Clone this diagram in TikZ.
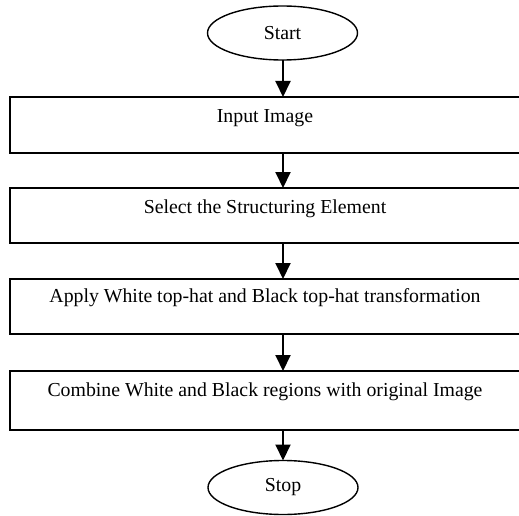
\documentclass[tikz,border=0pt]{standalone}
\usepackage{fontspec}
\setmainfont{Liberation Serif}
\usetikzlibrary{shapes.geometric,arrows.meta}
\begin{document}
\begin{tikzpicture}[x=1pt,y=-1pt,
  every node/.style={inner sep=0pt,outer sep=0pt},
  txt/.style={font=\fontsize{19.8}{24}\selectfont},
  term/.style={ellipse,draw,line width=1.4pt,minimum width=150pt,minimum height=54pt,font=\fontsize{19.8}{24}\selectfont},
  stepbox/.style={rectangle,draw,line width=1.8pt,minimum width=510pt},
  flow/.style={line width=2pt,-{Triangle[width=15pt,length=16pt]}}]
\clip (0,0) rectangle (519,516);
\node[term] (start) at (282.5,33) {Start};
\node[stepbox,minimum height=56pt] (b1) at (265,125) {};
\node[stepbox,minimum height=55pt] (b2) at (265,215.5) {};
\node[stepbox,minimum height=55pt] (b3) at (265,306.5) {};
\node[stepbox,minimum height=59pt] (b4) at (265,400.5) {};
\node[term] (stop) at (283,487.5) {Stop};
\node[txt] (t1) at (265,118) {Input Image};
\node[txt] (t2) at (265,209) {Select the Structuring Element};
\node[txt] (t3) at (265,298) {Apply White top-hat and Black top-hat transformation};
\node[txt] (t4) at (265,392) {Combine White and Black regions with original Image};
\draw[flow] (start.south -| 283,0) -- (b1.north -| 283,0);
\draw[flow] (b1.south -| 283,0) -- (b2.north -| 283,0);
\draw[flow] (b2.south -| 283,0) -- (b3.north -| 283,0);
\draw[flow] (b3.south -| 283,0) -- (b4.north -| 283,0);
\draw[flow] (b4.south -| 283,0) -- (stop.north -| 283,0);
\end{tikzpicture}
\end{document}
